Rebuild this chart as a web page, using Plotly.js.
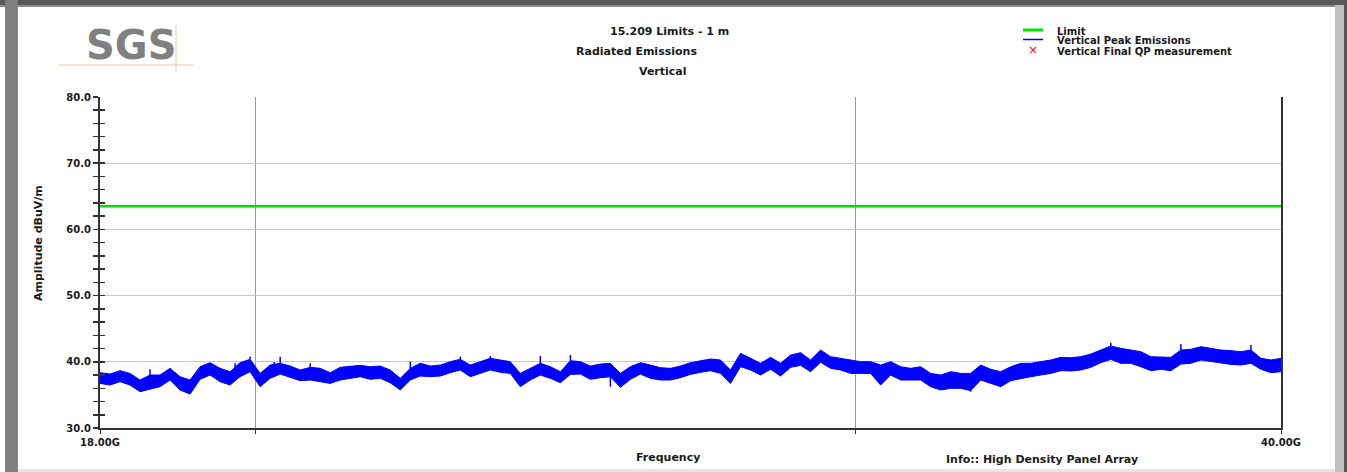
<!DOCTYPE html>
<html>
<head>
<meta charset="utf-8">
<script src="https://cdn.plot.ly/plotly-3.0.1.min.js"></script>
<style>
  html, body { margin: 0; padding: 0; background: #ffffff; }
  #wrap { position: relative; width: 1347px; height: 472px; overflow: hidden; background: #ffffff; }
  #chart { position: absolute; left: 0; top: 0; width: 1347px; height: 472px; }
  .fr { position: absolute; pointer-events: none; }
</style>
</head>
<body>
<div id="wrap">
  <div id="chart"></div>
  <div class="fr" style="left:0;top:0;width:1345px;height:5px;background:#585858"></div>
  <div class="fr" style="left:0;top:5px;width:1335px;height:2px;background:#8c8c8c"></div>
  <div class="fr" style="left:5px;top:0;width:13px;height:472px;background:#808080"></div>
  <div class="fr" style="left:1335px;top:5px;width:9px;height:467px;background:#c0c0c0"></div>
  <div class="fr" style="left:1344px;top:0;width:3px;height:472px;background:#555555"></div>
  <div class="fr" style="left:18px;top:469px;width:1317px;height:3px;background:#e6e6e6"></div>
</div>
<script>
// ---- data ----
const limitFreq = [18, 40];
const limitLevel = [63.5, 63.5];

const freqGHz = [18.000,18.122,18.245,18.369,18.494,18.619,18.745,18.873,19.001,19.130,
19.260,19.391,19.522,19.655,19.788,19.923,20.058,20.194,20.332,20.470,
20.609,20.749,20.890,21.032,21.174,21.318,21.463,21.609,21.755,21.903,
22.052,22.202,22.352,22.504,22.657,22.810,22.965,23.121,23.278,23.436,
23.595,23.755,23.916,24.079,24.242,24.407,24.573,24.740,24.908,25.077,
25.247,25.418,25.591,25.765,25.939,26.116,26.293,26.471,26.651,26.832,
27.015,27.198,27.383,27.569,27.756,27.945,28.135,28.326,28.518,28.712,
28.906,29.102,29.300,29.499,29.699,29.901,30.104,30.308,30.514,30.721,
30.930,31.140,31.351,31.564,31.779,31.994,32.211,32.430,32.650,32.872,
33.095,33.320,33.546,33.774,34.003,34.234,34.466,34.700,34.936,35.173,
35.412,35.652,35.894,36.138,36.383,36.631,36.879,37.130,37.382,37.635,
37.892,38.149,38.408,38.669,38.932,39.196,39.462,39.730,40.000];

const peakTop = [38.36,38.15,38.66,38.25,37.25,38.00,38.00,39.01,37.75,37.25,
39.26,39.87,39.01,38.51,39.87,40.37,38.25,39.51,39.77,39.36,
38.76,39.16,39.01,38.36,39.16,39.26,39.46,39.26,39.36,38.76,
37.50,39.01,39.77,39.36,39.51,40.02,40.37,39.51,40.02,40.52,
40.27,40.02,38.25,39.01,39.77,39.26,38.51,40.17,40.02,39.36,
39.66,39.77,38.25,39.26,39.87,39.51,39.11,39.01,39.36,39.87,
40.17,40.42,40.27,38.76,41.28,40.52,39.77,40.67,39.77,41.02,
41.38,40.27,41.78,40.77,40.52,40.17,40.02,40.02,39.51,40.02,
39.26,39.01,39.26,38.25,38.00,38.51,38.25,38.25,39.51,38.86,
38.51,39.26,39.77,39.77,40.02,40.27,40.67,40.62,40.77,41.17,
41.78,42.38,42.03,41.78,41.53,40.77,40.77,40.67,41.78,41.88,
42.28,42.03,41.78,41.68,41.53,41.78,40.52,40.27,40.52];

const peakBottom = [36.74,36.49,37.00,36.49,35.49,35.84,36.24,37.25,35.74,35.13,
37.35,38.00,37.00,36.49,37.75,38.51,36.24,37.50,38.15,37.65,
37.15,37.25,37.00,36.74,37.25,37.50,37.75,37.35,37.50,36.84,
35.74,37.25,37.85,37.75,37.85,38.36,38.76,37.75,38.25,38.76,
38.41,38.25,36.24,37.25,38.00,37.50,36.84,38.10,38.15,37.35,
37.60,37.75,36.14,37.35,38.15,37.50,37.25,37.25,37.60,38.10,
38.41,38.66,38.25,36.74,39.26,38.76,38.00,38.86,37.85,39.16,
39.46,38.51,39.92,39.01,38.76,38.25,38.25,38.25,36.49,38.00,
37.25,37.25,37.25,36.24,35.74,35.99,35.99,35.64,37.25,36.74,
36.24,37.15,37.50,37.75,38.00,38.25,38.66,38.61,38.76,39.16,
39.87,40.37,39.77,39.77,39.26,38.66,38.86,38.66,39.66,39.77,
40.27,40.02,39.77,39.61,39.51,39.77,38.86,38.36,38.51];

const spikeFreq = [18.619,19.722,19.923,20.249,20.332,20.749,22.202,22.965,23.436,24.242,24.740,25.418,32.430,35.652,37.382,39.196];
const spikeBase = [38.00,39.20,40.37,39.60,39.77,39.16,39.01,40.37,40.52,39.77,40.17,37.75,35.64,42.38,41.78,41.78];
const spikeTip  = [38.86,39.77,40.77,39.97,40.77,39.77,40.02,40.77,40.87,40.87,41.02,36.24,35.49,42.89,42.69,42.53];

const qpFreq = [];
const qpLevel = [];

const xTickVals = [18, 20, 30, 40];
const xTickText = ['18.00G', '', '', '40.00G'];
const yTickVals = [30, 40, 50, 60, 70, 80];

const titleLines = ['15.209 Limits - 1 m', 'Radiated Emissions', 'Vertical'];
const legendNames = ['Limit', 'Vertical Peak Emissions', 'Vertical Final QP measurement'];
const yTitle = 'Amplitude dBuV/m';
const xTitle = 'Frequency';
const infoText = 'Info:: High Density Panel Array';
const logoText = 'SGS';

// ---- build traces ----
const spikeX = [], spikeY = [];
for (let i = 0; i < spikeFreq.length; i++) {
  spikeX.push(spikeFreq[i], spikeFreq[i], null);
  spikeY.push(spikeBase[i], spikeTip[i], null);
}

const BLUE = '#0000ff';
const traces = [
  { x: limitFreq, y: limitLevel, mode: 'lines', name: legendNames[0],
    line: { color: '#00e400', width: 2.6 }, hoverinfo: 'skip' },
  { x: freqGHz, y: peakTop, mode: 'lines', name: legendNames[1],
    line: { color: BLUE, width: 1.0 }, hoverinfo: 'skip' },
  { x: freqGHz, y: peakBottom, mode: 'lines', name: legendNames[1],
    line: { color: BLUE, width: 1.0 }, fill: 'tonexty', fillcolor: BLUE, hoverinfo: 'skip' },
  { x: spikeX, y: spikeY, mode: 'lines', name: legendNames[1], connectgaps: false,
    line: { color: BLUE, width: 1.5 }, hoverinfo: 'skip' },
  { x: qpFreq, y: qpLevel, mode: 'markers', name: legendNames[2], yaxis: 'y2',
    marker: { symbol: 'x', color: '#ff0000', size: 7 }, hoverinfo: 'skip' }
];

// pixel -> paper helpers (plot area: x 100..1281, y 97..428)
const L = 100, R = 1281, T = 97, B = 428;
const px = v => (v - L) / (R - L);
const py = v => (B - v) / (B - T);

const FONT = 'DejaVu Sans';
const txt = (s, x, y, size, opts) => Object.assign({
  text: s, xref: 'paper', yref: 'paper', x: px(x), y: py(y),
  xanchor: 'center', yanchor: 'middle', showarrow: false,
  font: { family: FONT, size: size, color: '#1a1a1a', weight: 'bold' }
}, opts || {});

const annotations = [
  txt(titleLines[0], 669, 32, 11),
  txt(titleLines[1], 636, 52, 11),
  txt(titleLines[2], 663, 71, 11),
  txt(yTitle, 38, 243, 11, { textangle: -90 }),
  txt(xTitle, 668, 458, 11),
  txt(infoText, 1042, 459, 11),
  txt(legendNames[0], 1055, 31, 10, { xanchor: 'left' }),
  txt(legendNames[1], 1055, 40.5, 10, { xanchor: 'left' }),
  txt(legendNames[2], 1055, 51, 10, { xanchor: 'left' }),
  txt('×', 1033, 50, 12, { font: { family: FONT, size: 12, color: '#ff0000' } }),
  txt(logoText, 131, 45, 40, { font: { family: FONT, size: 40, color: '#808080', weight: 'bold' } })
];

const shapes = [
  { type: 'line', xref: 'paper', yref: 'paper', x0: px(1023), x1: px(1043), y0: py(30), y1: py(30),
    line: { color: '#00e400', width: 3 } },
  { type: 'line', xref: 'paper', yref: 'paper', x0: px(1023), x1: px(1043), y0: py(39.5), y1: py(39.5),
    line: { color: BLUE, width: 1.5 } },
  { type: 'line', xref: 'paper', yref: 'paper', x0: px(59), x1: px(193), y0: py(65), y1: py(65),
    line: { color: '#f3c49f', width: 1 } },
  { type: 'line', xref: 'paper', yref: 'paper', x0: px(176), x1: px(176), y0: py(25), y1: py(72),
    line: { color: '#f3c49f', width: 1 } }
];

const tickFont = { family: FONT, size: 10, color: '#1a1a1a', weight: 'bold' };

const layout = {
  width: 1347, height: 472,
  margin: { l: L, r: 1347 - R, t: T, b: 472 - B, pad: 0 },
  paper_bgcolor: '#ffffff', plot_bgcolor: '#ffffff',
  showlegend: false,
  xaxis: {
    type: 'log', range: [Math.log10(limitFreq[0]), Math.log10(limitFreq[1])],
    tickmode: 'array', tickvals: xTickVals, ticktext: xTickText,
    showgrid: true, gridcolor: '#9a9a9a', gridwidth: 1,
    showline: true, linecolor: '#333333', linewidth: 2,
    ticks: 'outside', ticklen: 4, tickwidth: 1, tickcolor: '#333333',
    tickfont: tickFont, zeroline: false, fixedrange: true
  },
  yaxis: {
    range: [30, 80], tickmode: 'array', tickvals: yTickVals, tickformat: '.1f',
    showgrid: true, gridcolor: '#c8c8c8', gridwidth: 1,
    showline: true, linecolor: '#333333', linewidth: 2, mirror: true,
    ticks: 'outside', ticklen: 5, tickwidth: 1.5, tickcolor: '#333333',
    minor: { dtick: 2, ticks: 'outside', ticklen: 5, tickwidth: 1.5, tickcolor: '#333333', showgrid: false },
    tickfont: tickFont, zeroline: false, fixedrange: true
  },
  yaxis2: {
    overlaying: 'y', side: 'left', range: [30, 80], tickmode: 'array', tickvals: yTickVals,
    showgrid: false, showline: false, zeroline: false, showticklabels: false,
    ticks: 'inside', ticklen: 5, tickwidth: 1.5, tickcolor: '#333333',
    minor: { dtick: 2, ticks: 'inside', ticklen: 5, tickwidth: 1.5, tickcolor: '#333333', showgrid: false },
    fixedrange: true
  },
  annotations: annotations,
  shapes: shapes
};

Plotly.newPlot('chart', traces, layout, { staticPlot: true, displayModeBar: false });
</script>
</body>
</html>
